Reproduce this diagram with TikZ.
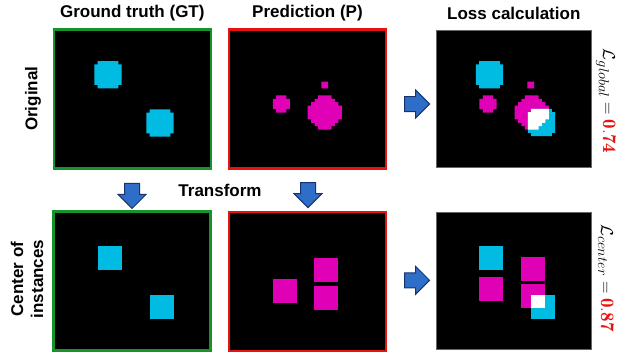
\documentclass[tikz,border=0pt]{standalone}
\usepackage{fontspec}
\setsansfont{Liberation Sans}
\usetikzlibrary{shapes.arrows}

\definecolor{gtcyan}{RGB}{0,188,226}
\definecolor{predmag}{RGB}{224,0,182}
\definecolor{gtgreen}{RGB}{22,148,42}
\definecolor{predred}{RGB}{232,18,18}
\definecolor{arrowblue}{RGB}{46,110,200}
\definecolor{arrowedge}{RGB}{26,50,108}

% pixel blob as a path: centre x, centre y, rows, row widths (cells)
\newcommand{\pixblob}[4]{%
	\foreach \w [count=\k] in {#4} {
		({#1-\w*\cell/2}, {#2-#3*\cell/2+(\k-1)*\cell}) rectangle ++({\w*\cell}, \cell)
	}}

\tikzset{
	gtpanel/.style={draw=gtgreen, line width=2.5pt, fill=black, inner sep=0pt, minimum width=157pt, minimum height=139pt},
	predpanel/.style={draw=predred, line width=2.5pt, fill=black, inner sep=0pt, minimum width=157pt, minimum height=139pt},
	losspanel/.style={draw=black!60, line width=0.8pt, fill=black, inner sep=0pt, minimum width=155pt, minimum height=137pt},
	header/.style={font=\fontsize{17}{20}\selectfont\sffamily\bfseries, inner sep=0pt},
	flowarrow/.style={single arrow, draw=arrowedge, fill=arrowblue, line width=1pt, inner xsep=0pt, inner ysep=7pt,
		minimum height=25pt, single arrow head extend=6.5pt},
	downarrow/.style={flowarrow, shape border rotate=270, inner xsep=7pt, inner ysep=0pt},
	lossnote/.style={font=\fontsize{19}{23}\selectfont, rotate=-90, inner sep=0pt}
}

\begin{document}
\begin{tikzpicture}[x=1pt, y=-1pt]
	% page setup
	\def\cell{3.42}
	\def\sq{24}
	\useasboundingbox (0,0) rectangle (621,357);
	\coordinate (hrow) at (0,13);
	
	% panels
	\node[gtpanel] (gt1) at (132.3,98.8) {};
	\node[predpanel] (p1) at (307.5,98.8) {};
	\node[losspanel] (loss1) at (513.8,98.7) {};
	\node[gtpanel] (gt2) at (132,281) {};
	\node[predpanel] (p2) at (307.5,281.5) {};
	\node[losspanel] (loss2) at (513.8,280.8) {};
	
	% headers and row labels
	\node[header] (hgt) at (gt1 |- hrow) {Ground truth (GT)};
	\node[header] (hp) at (p1 |- hrow) {Prediction (P)};
	\node[header] (hloss) at (loss1 |- hrow) {Loss calculation};
	\node[header, rotate=90] (rorig) at (33,98.8) {Original};
	\node[header, rotate=90, align=center] (rcenter) at (27,279) {Center of\\instances};
	\node[header] (trans) at (220,190) {Transform};
	
	% arrows
	\node[downarrow] (tr1) at (132,192.2) {};
	\node[downarrow] (tr2) at (308,191.3) {};
	\node[flowarrow] (ar1) at (413.3,104) {};
	\node[flowarrow] (ar2) at (413.3,280.3) {};
	
	% ground truth, original
	\fill[gtcyan] \pixblob{108}{74.7}{8}{6,8,8,8,8,8,8,6};
	\fill[gtcyan] \pixblob{160}{123}{8}{6,8,8,8,8,8,8,6};
	
	% prediction, original
	\fill[predmag] \pixblob{281.3}{104}{5}{3,5,5,5,3};
	\fill[predmag] \pixblob{324.8}{112.5}{10}{4,6,8,10,10,10,10,8,6,4};
	\fill[predmag] \pixblob{324.7}{85}{2}{2,2};
	
	% loss, original
	\fill[gtcyan] \pixblob{489.5}{74.7}{8}{6,8,8,8,8,8,8,6};
	\fill[predmag] \pixblob{488}{104}{5}{3,5,5,5,3};
	\fill[predmag] \pixblob{530.8}{85}{2}{2,2};
	\fill[predmag] \pixblob{531.7}{112.5}{10}{4,6,8,10,10,10,10,8,6,4};
	\fill[gtcyan] \pixblob{541.5}{122.5}{8}{6,8,8,8,8,8,8,6};
	\begin{scope}
		\path[clip] \pixblob{531.7}{112.5}{10}{4,6,8,10,10,10,10,8,6,4};
		\fill[white] \pixblob{541.5}{122.5}{8}{6,8,8,8,8,8,8,6};
	\end{scope}
	
	% ground truth, centres
	\fill[gtcyan] (98,246) rectangle ++(\sq,\sq);
	\fill[gtcyan] (149.5,294.5) rectangle ++(\sq,\sq);
	
	% prediction, centres
	\fill[predmag] (272.8,278.8) rectangle ++(\sq,\sq);
	\fill[predmag] (314.3,258) rectangle ++(\sq,\sq);
	\fill[predmag] (314.3,285.8) rectangle ++(\sq,\sq);
	
	% loss, centres
	\fill[gtcyan] (479.3,246) rectangle ++(\sq,\sq);
	\fill[predmag] (479.3,276.8) rectangle ++(\sq,\sq);
	\fill[predmag] (521,256.7) rectangle ++(\sq,\sq);
	\fill[predmag] (521,284.3) rectangle ++(\sq,\sq);
	\fill[gtcyan] (531,294.5) rectangle ++(\sq,\sq);
	\fill[white] (531,294.5) rectangle (545,308.3);
	
	% loss values
	\node[lossnote] (lglobal) at (606,101) {$\mathcal{L}_{global} = {\color{predred}\mathbf{0.74}}$};
	\node[lossnote] (lcenter) at (606,278) {$\mathcal{L}_{center} = {\color{predred}\mathbf{0.87}}$};
\end{tikzpicture}
\end{document}
